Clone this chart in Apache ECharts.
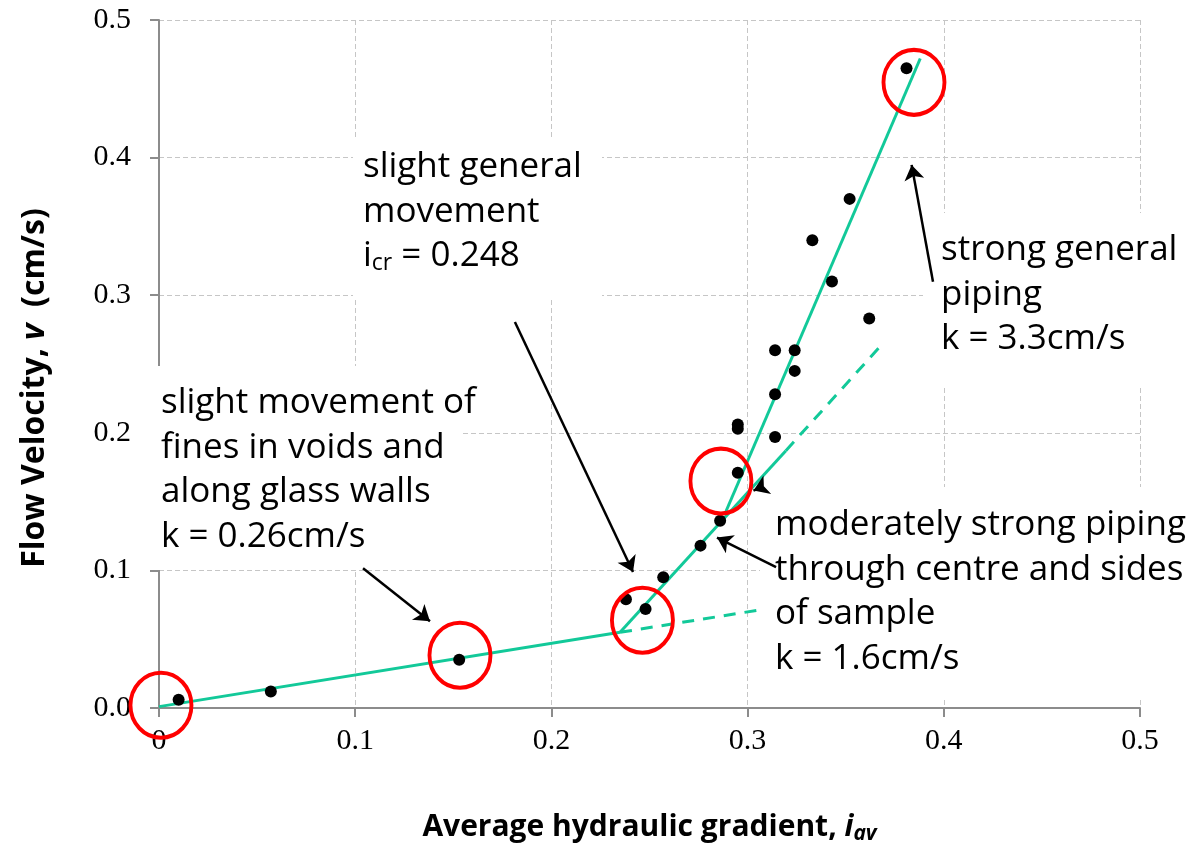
<!DOCTYPE html>
<html>
<head>
<meta charset="utf-8">
<script src="https://cdn.jsdelivr.net/npm/echarts@6/dist/echarts.min.js"></script>
<style>
html, body { margin: 0; padding: 0; background: #fff; }
#chart { width: 1197px; height: 852px; }
</style>
</head>
<body>
<div id="chart"></div>
<script>
// measured points: average hydraulic gradient vs flow velocity (cm/s)
var gradient = [0.010, 0.057, 0.153, 0.238, 0.248, 0.257, 0.276, 0.286, 0.295, 0.295, 0.295,
                0.314, 0.314, 0.314, 0.324, 0.324, 0.333, 0.343, 0.352, 0.362, 0.381];
var velocity = [0.006, 0.012, 0.035, 0.079, 0.072, 0.095, 0.118, 0.136, 0.171, 0.203, 0.206,
                0.197, 0.228, 0.260, 0.260, 0.245, 0.340, 0.310, 0.370, 0.283, 0.465];

// fitted lines, [x0, y0, x1, y1]
var fitSolid = [
    [0, 0.001, 0.235, 0.055],
    [0.235, 0.055, 0.3195, 0.187],
    [0.289, 0.143, 0.388, 0.472]
];
var fitDashed = [
    [0.235, 0.055, 0.305, 0.071],
    [0.3195, 0.187, 0.369, 0.265]
];

// stage markers (red rings)
var ringX = [0.001, 0.1534, 0.2464, 0.2864, 0.3848];
var ringY = [0.002, 0.0383, 0.0638, 0.1649, 0.4547];

// annotation arrows, [fromX, fromY, toX, toY]
var arrows = [
    [0.1040, 0.1016, 0.1381, 0.0631],
    [0.1814, 0.2805, 0.2416, 0.0989],
    [0.3145, 0.1023, 0.2844, 0.1239],
    [0.3945, 0.3098, 0.3836, 0.3947],
    [0.3072, 0.1605, 0.3030, 0.1580]
];

var green = '#12C999';
var textFont = '"Open Sans", "Noto Sans", sans-serif';

function toLines(list) {
    return list.map(function (s) {
        return { coords: [[s[0], s[1]], [s[2], s[3]]] };
    });
}

var points = gradient.map(function (g, i) { return [g, velocity[i]]; });
var rings = ringX.map(function (x, i) { return [x, ringY[i]]; });

var axisCommon = {
    type: 'value',
    min: 0,
    max: 0.5,
    interval: 0.1,
    axisLine: { lineStyle: { color: '#8c8c8c', width: 2 } },
    axisTick: { show: true, length: 9, lineStyle: { color: '#8c8c8c', width: 2 } },
    splitLine: { show: true, lineStyle: { color: '#c6c6c6', width: 1, type: [5, 3] } },
    axisLabel: { color: '#000', fontFamily: '"Liberation Serif", serif', fontSize: 30 }
};

// white boxes behind the notes
function box(x, y, w, h) {
    return { type: 'rect', z: 1, shape: { x: x, y: y, width: w, height: h }, style: { fill: '#fff' } };
}
function note(x, y, text, rich) {
    return {
        type: 'text', z: 20, x: x, y: y,
        style: {
            text: text, fill: '#000', fontFamily: textFont, fontSize: 35, lineHeight: 44.5,
            verticalAlign: 'top', rich: rich || {}
        }
    };
}

var option = {
    animation: false,
    backgroundColor: '#fff',
    grid: { left: 159, right: 57, top: 20, bottom: 144 },
    xAxis: Object.assign({}, axisCommon, {
        axisLabel: Object.assign({}, axisCommon.axisLabel, {
            margin: 18,
            formatter: function (v) { return v === 0 ? '0' : v.toFixed(1); }
        }),
        name: 'Average hydraulic gradient, {i|i}{av|av}',
        nameLocation: 'middle',
        nameGap: 102,
        nameTextStyle: {
            fontFamily: textFont, fontWeight: 'bold', fontSize: 30, color: '#000',
            rich: {
                i: { fontFamily: textFont, fontWeight: 'bold', fontStyle: 'italic', fontSize: 30 },
                av: { fontFamily: textFont, fontWeight: 'bold', fontStyle: 'italic', fontSize: 21, padding: [14, 0, 0, 0] }
            }
        }
    }),
    yAxis: Object.assign({}, axisCommon, {
        axisLabel: Object.assign({}, axisCommon.axisLabel, {
            margin: 28,
            formatter: function (v) { return v.toFixed(1); }
        })
    }),
    series: [
        {
            type: 'lines', coordinateSystem: 'cartesian2d', z: 3,
            lineStyle: { color: green, width: 3, opacity: 1 },
            data: toLines(fitSolid)
        },
        {
            type: 'lines', coordinateSystem: 'cartesian2d', z: 3,
            lineStyle: { color: green, width: 3, opacity: 1, type: [12, 9] },
            data: toLines(fitDashed)
        },
        {
            type: 'scatter', z: 4,
            symbol: 'circle', symbolSize: 12,
            itemStyle: { color: '#000', opacity: 1 },
            data: points
        },
        {
            type: 'scatter', z: 5,
            symbol: 'circle', symbolSize: [61, 65],
            itemStyle: { color: 'rgba(0,0,0,0)', borderColor: '#FF0000', borderWidth: 4, opacity: 1 },
            data: rings
        },
        {
            type: 'lines', coordinateSystem: 'cartesian2d', z: 6,
            symbol: ['none', 'arrow'], symbolSize: 15,
            lineStyle: { color: '#000', width: 2.5, opacity: 1 },
            data: toLines(arrows)
        }
    ],
    graphic: {
        elements: [
            box(353, 140, 249, 158),
            box(923, 213, 274, 175),
            box(150, 366, 313, 204),
            box(760, 487, 437, 210),
            note(363, 145, 'slight general\nmovement\n{n|i}{sub|cr}{n| = 0.248}', {
                n: { fontFamily: textFont, fontSize: 35, lineHeight: 44.5 },
                sub: { fontFamily: textFont, fontSize: 23, padding: [15, 0, 0, 0] }
            }),
            note(941, 228, 'strong general\npiping\nk = 3.3cm/s'),
            note(161, 381, 'slight movement of\nfines in voids and\nalong glass walls\nk = 0.26cm/s'),
            note(775, 503, 'moderately strong piping\nthrough centre and sides\nof sample\nk = 1.6cm/s'),
            {
                type: 'text', z: 20, x: 35, y: 388, rotation: Math.PI / 2,
                style: {
                    text: 'Flow Velocity, {v|v}  (cm/s)',
                    fill: '#000', fontFamily: textFont, fontWeight: 'bold', fontSize: 32,
                    align: 'center', verticalAlign: 'middle',
                    rich: { v: { fontFamily: textFont, fontWeight: 'bold', fontStyle: 'italic', fontSize: 32 } }
                }
            }
        ]
    }
};

var chart = echarts.init(document.getElementById('chart'));
chart.setOption(option);
</script>
</body>
</html>
